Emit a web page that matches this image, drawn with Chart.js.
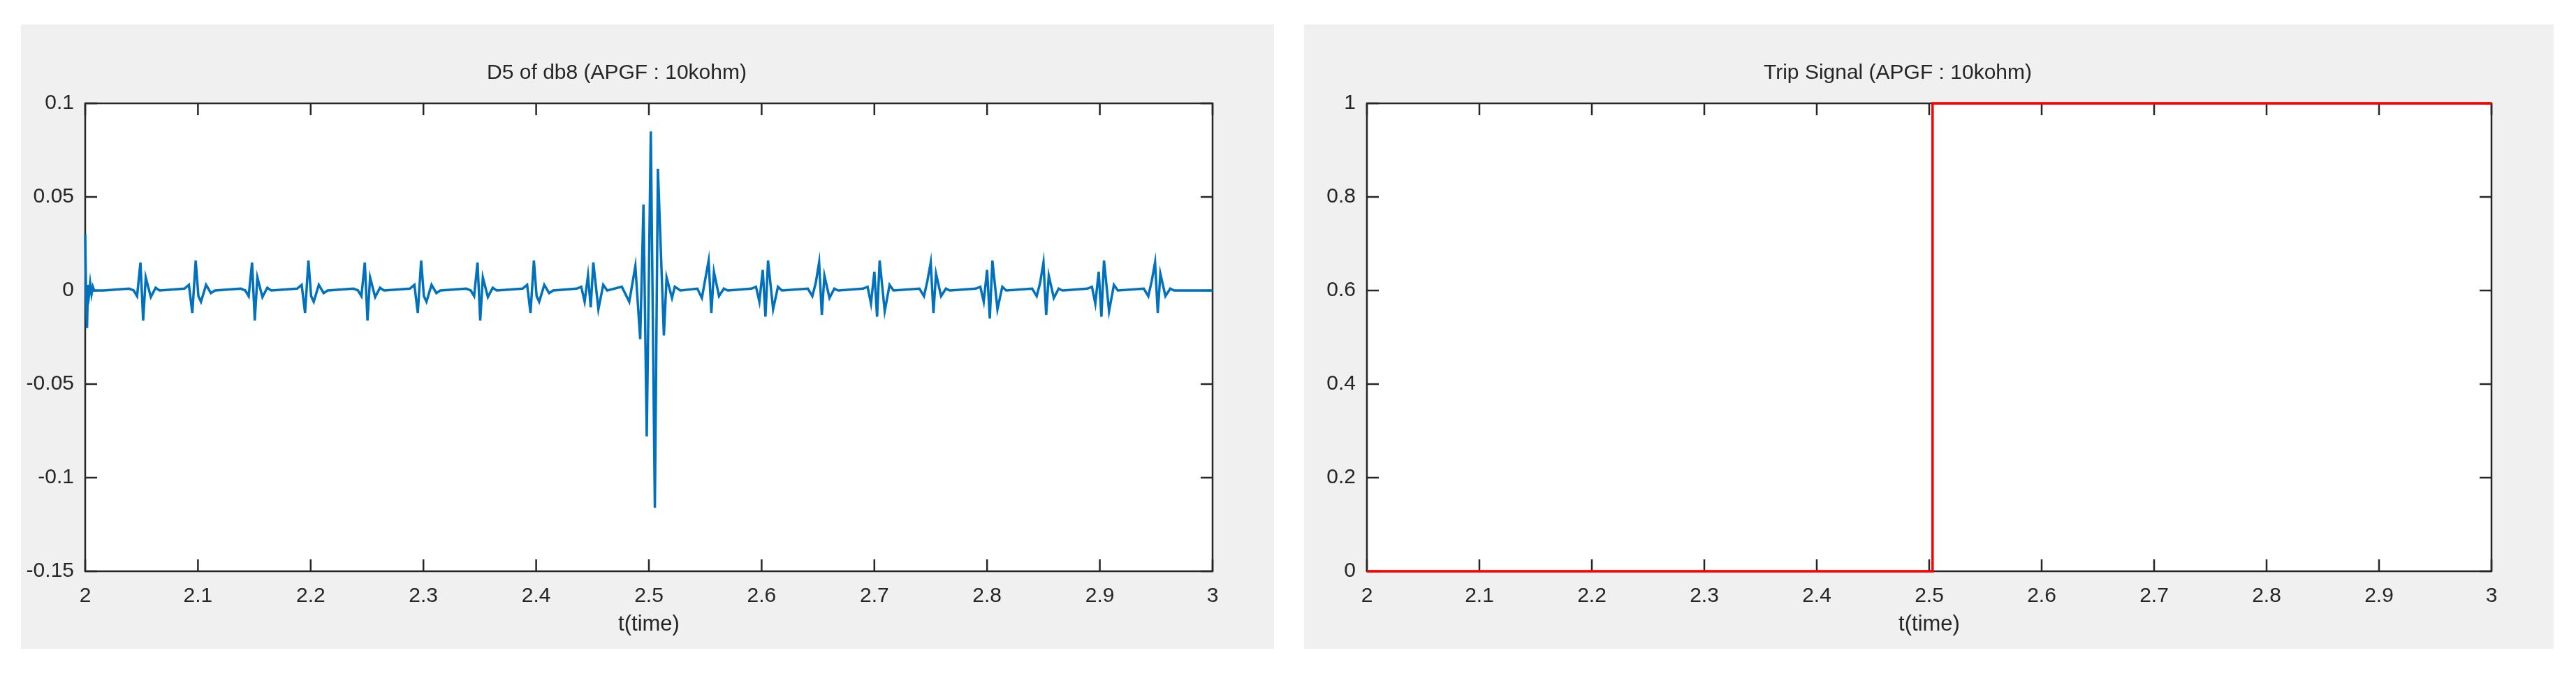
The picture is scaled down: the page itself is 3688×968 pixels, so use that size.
<!DOCTYPE html>
<html>
<head>
<meta charset="utf-8">
<script src="https://cdn.jsdelivr.net/npm/chart.js@4"></script>
<style>
  body { margin: 0; background: #fff; width: 3688px; height: 968px; position: relative; overflow: hidden; }
  .panel { position: absolute; background: #f0f0f0; }
</style>
</head>
<body>
<div class="panel" style="left:30px;top:35px;width:1794px;height:894px"><canvas id="d5"></canvas></div>
<div class="panel" style="left:1867px;top:35px;width:1789px;height:894px"><canvas id="trip"></canvas></div>
<script>
// x ticks shared by both plots
const xTicks = [2, 2.1, 2.2, 2.3, 2.4, 2.5, 2.6, 2.7, 2.8, 2.9, 3];
const d5YTicks = [-0.15, -0.1, -0.05, 0, 0.05, 0.1];
const tripYTicks = [0, 0.2, 0.4, 0.6, 0.8, 1];

// start transient at t = 2
const startT = [2.0, 2.0008, 2.0016, 2.0024, 2.0034, 2.0044, 2.0056, 2.0068, 2.008, 2.011, 2.016];
const startY = [0.03, -0.005, -0.02, 0.003, -0.002, 0.004, -0.002, 0.002, 0, 0, 0];

// small periodic bursts: offsets from each burst centre, then one row per burst
const burstOffsets = [-0.010, -0.006, -0.003, 0, 0.0024, 0.0047, 0.0092, 0.0135, 0.017];
const burstCentres = [2.049, 2.098, 2.148, 2.198, 2.248, 2.298, 2.348, 2.398, 2.446,
                      2.553, 2.601, 2.651, 2.700, 2.750, 2.800, 2.850, 2.899, 2.949];
const burstValues = [
  [0.001, 0, -0.003, 0.015, -0.016, 0.007, -0.0035, 0.0015, 0],
  [0.001, 0.003, -0.012, 0.016, -0.003, -0.006, 0.003, -0.0014, 0],
  [0.001, 0, -0.003, 0.015, -0.016, 0.007, -0.0035, 0.0015, 0],
  [0.001, 0.003, -0.012, 0.016, -0.003, -0.006, 0.003, -0.0014, 0],
  [0.001, 0, -0.003, 0.015, -0.016, 0.007, -0.0035, 0.0015, 0],
  [0.001, 0.003, -0.012, 0.016, -0.003, -0.006, 0.003, -0.0014, 0],
  [0.001, 0, -0.003, 0.015, -0.016, 0.007, -0.0035, 0.0015, 0],
  [0.001, 0.003, -0.012, 0.016, -0.003, -0.006, 0.003, -0.0014, 0],
  [0.001, 0.002, -0.006, 0.008, -0.009, 0.015, -0.010, 0.003, 0],
  [0.001, -0.004, 0.006, 0.016, -0.012, 0.010, -0.003, 0.001, 0],
  [0.001, 0.002, -0.006, 0.011, -0.014, 0.016, -0.010, 0.002, 0],
  [0.001, -0.003, 0.004, 0.015, -0.013, 0.008, -0.004, 0.001, 0],
  [0.001, 0.002, -0.007, 0.010, -0.014, 0.016, -0.011, 0.003, 0],
  [0.001, -0.003, 0.005, 0.015, -0.012, 0.009, -0.003, 0.001, 0],
  [0.001, 0.002, -0.006, 0.011, -0.015, 0.016, -0.010, 0.002, 0],
  [0.001, -0.003, 0.004, 0.015, -0.013, 0.008, -0.004, 0.001, 0],
  [0.001, 0.002, -0.007, 0.010, -0.014, 0.016, -0.011, 0.003, 0],
  [0.001, -0.003, 0.005, 0.015, -0.012, 0.009, -0.003, 0.001, 0],
];

// fault burst around t = 2.5
const faultT = [2.476, 2.4826, 2.488, 2.4923, 2.4952, 2.4981, 2.5017, 2.5053, 2.508, 2.5133, 2.5157, 2.5205, 2.523, 2.528];
const faultY = [0.002, -0.006, 0.013, -0.026, 0.046, -0.078, 0.085, -0.116, 0.065, -0.024, 0.007, -0.004, 0.002, 0];

const endT = [2.975, 3.0];
const endY = [0, 0];

// trip signal
const tripT = [2, 2.503, 2.503, 3];
const tripY = [0, 0, 1, 1];

function buildD5() {
  const pts = [];
  startT.forEach((t, i) => pts.push({ x: t, y: startY[i] }));
  const rows = burstCentres.map((c, i) => ({ c, v: burstValues[i] }));
  const before = rows.filter(r => r.c < 2.5);
  const after = rows.filter(r => r.c > 2.5);
  before.forEach(r => burstOffsets.forEach((o, j) => pts.push({ x: r.c + o, y: r.v[j] })));
  faultT.forEach((t, i) => pts.push({ x: t, y: faultY[i] }));
  after.forEach(r => burstOffsets.forEach((o, j) => pts.push({ x: r.c + o, y: r.v[j] })));
  endT.forEach((t, i) => pts.push({ x: t, y: endY[i] }));
  return pts;
}

const ink = '#262626';
const font = { family: 'Arial, "Liberation Sans", sans-serif', size: 30 };

// white plot area, box and inward ticks like MATLAB (drawn under the data)
const boxPlugin = {
  id: 'box',
  beforeDatasetsDraw(chart) {
    const a = chart.chartArea, ctx = chart.ctx;
    const xs = chart.scales.x, ys = chart.scales.y, len = 17;
    ctx.save();
    ctx.fillStyle = '#fff';
    ctx.fillRect(a.left, a.top, a.right - a.left, a.bottom - a.top);
    ctx.strokeStyle = ink;
    ctx.lineWidth = 2.5;
    ctx.beginPath();
    xs.ticks.forEach(t => {
      const px = xs.getPixelForValue(t.value);
      ctx.moveTo(px, a.bottom); ctx.lineTo(px, a.bottom - len);
      ctx.moveTo(px, a.top); ctx.lineTo(px, a.top + len);
    });
    ys.ticks.forEach(t => {
      const py = ys.getPixelForValue(t.value);
      ctx.moveTo(a.left, py); ctx.lineTo(a.left + len, py);
      ctx.moveTo(a.right, py); ctx.lineTo(a.right - len, py);
    });
    ctx.stroke();
    ctx.strokeRect(a.left, a.top, a.right - a.left, a.bottom - a.top);
    ctx.restore();
  },
};

function renderPanel(canvasId, title, data, color, yMin, yMax, yTicks, leftW, rightPad) {
  new Chart(document.getElementById(canvasId), {
    type: 'line',
    data: { datasets: [{ data, borderColor: color, borderWidth: 3.5, pointRadius: 0, tension: 0, fill: false, clip: 4 }] },
    plugins: [boxPlugin],
    options: {
      responsive: true,
      maintainAspectRatio: false,
      animation: false,
      layout: { padding: { left: 0, right: rightPad, top: 0, bottom: 0 } },
      plugins: {
        legend: { display: false },
        tooltip: { enabled: false },
        title: { display: true, text: title, color: ink, font: { ...font, size: 30, weight: 'normal' }, padding: { top: 52, bottom: 25 } },
      },
      scales: {
        x: {
          type: 'linear', min: 2, max: 3,
          afterBuildTicks: s => { s.ticks = xTicks.map(v => ({ value: v })); },
          afterFit: s => { s.height = 111; },
          grid: { display: false, drawTicks: false },
          border: { display: false },
          ticks: { color: ink, font, padding: 18, maxRotation: 0, callback: v => String(+v.toFixed(2)) },
          title: { display: true, text: 't(time)', color: ink, font: { ...font, size: 31 }, padding: { top: 0, bottom: 16 } },
        },
        y: {
          type: 'linear', min: yMin, max: yMax,
          afterBuildTicks: s => { s.ticks = yTicks.map(v => ({ value: v })); },
          afterFit: s => { s.width = leftW; },
          grid: { display: false, drawTicks: false },
          border: { display: false },
          ticks: { color: ink, font, padding: 16, callback: v => String(+v.toFixed(2)) },
        },
      },
    },
  });
}

renderPanel('d5', 'D5 of db8 (APGF : 10kohm)', buildD5(), '#0072BD', -0.15, 0.1, d5YTicks, 92, 88);
renderPanel('trip', 'Trip Signal (APGF : 10kohm)', tripT.map((t, i) => ({ x: t, y: tripY[i] })), '#FF0000', 0, 1, tripYTicks, 90, 89);
</script>
</body>
</html>
